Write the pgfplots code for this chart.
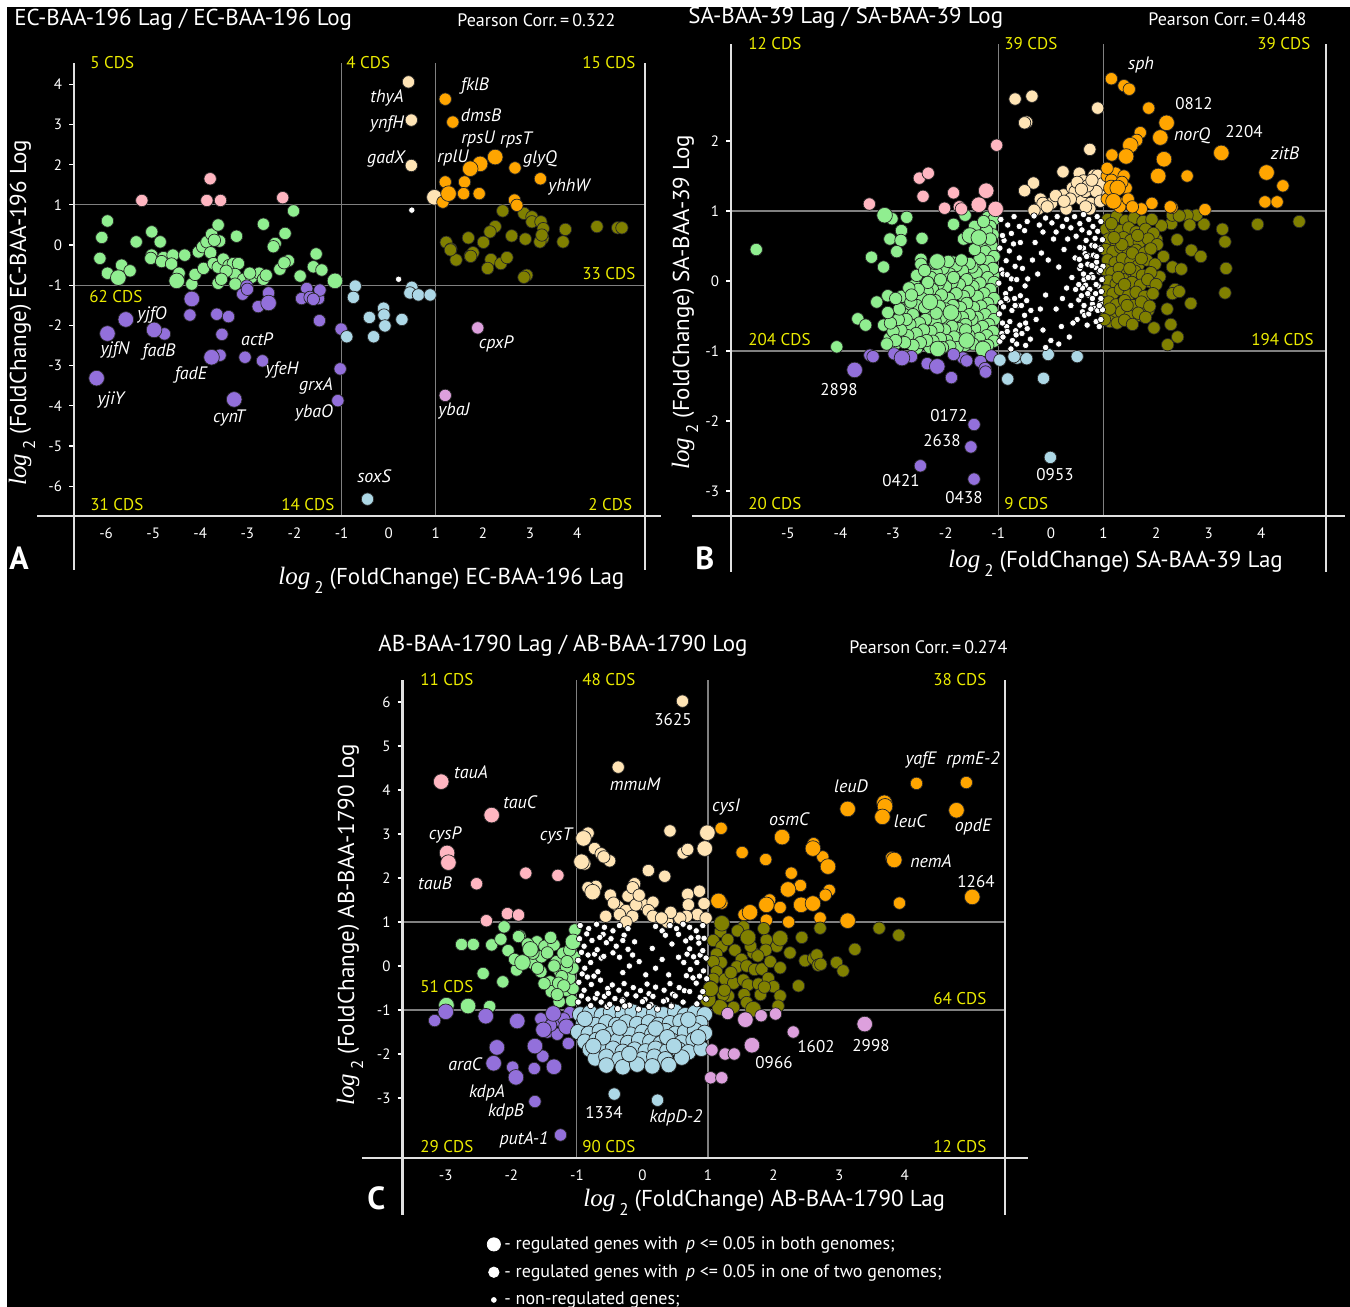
\documentclass[border=0pt]{standalone}
\usepackage{fontspec}
\setmainfont{PT Sans}
\newfontfamily\ser{Liberation Serif}
\usepackage{pgfplots}
\pgfplotsset{compat=1.18}
\definecolor{cgreen}{RGB}{144,238,144}
\definecolor{cpink}{RGB}{255,182,193}
\definecolor{cwheat}{RGB}{255,228,181}
\definecolor{corange}{RGB}{255,165,0}
\definecolor{colive}{RGB}{128,128,0}
\definecolor{cblue}{RGB}{173,216,230}
\definecolor{cpurple}{RGB}{147,112,219}
\definecolor{cplum}{RGB}{221,160,221}
\definecolor{cyel}{RGB}{235,235,0}
\newcommand{\fT}{\fontsize{11.5}{13}\selectfont}
\newcommand{\fP}{\fontsize{9}{10}\selectfont}
\newcommand{\fC}{\fontsize{8.5}{10}\selectfont}
\newcommand{\fG}{\fontsize{9}{10}\selectfont\itshape}
\newcommand{\fN}{\fontsize{8.5}{10}\selectfont}
\newcommand{\fL}{\fontsize{11.5}{13}\selectfont}
\newcommand{\lgt}{{\ser\itshape\fontsize{12.5}{13}\selectfont log}\hspace{2pt}\raisebox{-4.5pt}{\fontsize{8.5}{9}\selectfont 2}\hspace{3pt}}
\tikzset{
 gl/.style={gray, line width=0.6pt},
 al/.style={white!88!black, line width=1.1pt},
}
\pgfplotsset{
 pmed/.style={only marks, mark=*, mark size=3.1pt, mark options={draw=black!85, fill=#1, line width=0.35pt}},
 pbig/.style={only marks, mark=*, mark size=3.9pt, mark options={draw=black!85, fill=#1, line width=0.35pt}},
 pwht/.style={only marks, mark=*, mark size=1.6pt, mark options={draw=black, fill=white, line width=0.3pt}},
 panel/.style={scale only axis, clip=false, axis line style={draw=none},
   xtick pos=left, ytick pos=left, tick align=outside,
   xtick style={draw=none}, ytick style={white, line width=0.6pt},
   major tick length=2.5pt,
   tick label style={white, font=\fontsize{7.5}{8}\selectfont},
   /pgf/number format/assume math mode=true,
   anchor=south west},
}
\begin{document}
\begin{tikzpicture}
\useasboundingbox (0,0) rectangle (675pt,-653.5pt);
\fill[white] (0,0) rectangle (675pt,-653.5pt);
\fill[black] (3.5pt,-3.5pt) rectangle (675pt,-653.5pt);

% ================= PANEL A =================
\begin{axis}[panel, at={(37pt,-258pt)}, width=285.5pt, height=226.5pt,
  xmin=-6.68, xmax=5.44, ymin=-6.74, ymax=4.53, xtick={-6,...,4}, ytick={-6,...,4}]
\draw[gl] (axis cs:-1,-6.74) -- (axis cs:-1,4.53);
\draw[gl] (axis cs:1,-6.74) -- (axis cs:1,4.53);
\draw[gl] (axis cs:-6.68,1) -- (axis cs:5.44,1);
\draw[gl] (axis cs:-6.68,-1) -- (axis cs:5.44,-1);
\draw[al] (axis cs:-7.465,-6.74) -- (axis cs:5.784,-6.74);
\draw[al] (axis cs:-6.68,4.53) -- (axis cs:-6.68,-8.08);
\draw[al] (axis cs:5.44,4.53) -- (axis cs:5.44,-8.08);
\addplot[pmed=cgreen] coordinates {(-5.97,0.60)(-6.09,0.19)(-6.13,-0.33)(-5.97,-0.70)(-5.67,-0.50)(-5.49,-0.64)(-5.36,0.08)(-5.03,0.33)(-4.85,0.08)(-5.03,-0.25)(-5.05,-0.33)(-4.78,-0.31)(-4.82,-0.41)(-4.58,-0.25)(-4.61,-0.47)(-4.33,-0.25)(-4.46,-0.75)(-4.18,-0.97)(-4.11,-0.73)(-3.93,-0.58)(-4.04,-0.17)(-3.95,-0.04)(-3.86,0.08)(-3.76,0.27)(-3.62,0.50)(-3.59,0.10)(-3.78,-0.19)(-3.72,-0.46)(-3.62,-0.55)(-3.51,-0.35)(-3.39,-0.51)(-3.30,-0.46)(-3.19,-0.46)(-3.26,-0.73)(-3.08,-0.85)(-3.26,-0.97)(-3.62,-0.95)(-3.23,0.22)(-2.91,-0.80)(-2.75,-0.70)(-2.66,-0.85)(-2.66,0.52)(-2.41,0.04)(-2.45,-0.04)(-2.20,0.29)(-2.02,0.85)(-2.13,-0.39)(-2.31,-0.60)(-2.22,-0.44)(-1.88,-0.77)(-1.54,-0.22)(-1.60,-0.54)(-1.42,-0.62)(-3.70,0.12)(-3.45,-0.65)(-2.95,-0.70)(-3.55,-0.85)(-2.60,-0.75)(-4.45,-0.70)};
\addplot[pbig=cgreen] coordinates {(-5.74,-0.81)(-4.50,-0.89)(-1.14,-0.89)};
\addplot[pmed=cpink] coordinates {(-5.24,1.11)(-3.79,1.65)(-3.86,1.11)(-3.57,1.11)(-2.25,1.18)};
\addplot[pmed=cwheat] coordinates {(0.42,4.06)(0.48,3.11)(0.48,1.98)};
\addplot[pbig=cwheat] coordinates {(0.97,1.19)};
\addplot[pwht] coordinates {(0.49,0.87)(0.21,-0.85)};
\addplot[pmed=colive] coordinates {(2.42,0.85)(2.87,0.79)(3.04,0.70)(3.04,0.58)(3.23,0.58)(3.28,0.41)(3.27,0.17)(3.21,0.08)(2.90,0.15)(2.61,0.23)(2.26,0.46)(2.15,0.33)(2.01,0.07)(1.69,0.18)(1.22,0.07)(1.32,-0.10)(1.43,-0.37)(1.73,-0.27)(1.79,-0.19)(2.17,-0.36)(2.10,-0.58)(2.38,-0.46)(2.51,-0.31)(2.93,-0.75)(2.87,-0.80)(3.70,0.08)(3.75,0.39)(4.42,0.46)(4.86,0.43)(4.95,0.43)(1.74,-0.28)(3.25,0.25)(1.31,-0.12)};
\addplot[pmed=corange] coordinates {(1.20,3.63)(1.36,3.06)(1.20,1.57)(1.61,1.57)(1.59,1.28)(1.92,1.28)(1.15,1.07)(2.68,1.92)(3.22,1.65)(2.67,1.12)(2.72,0.99)};
\addplot[pbig=corange] coordinates {(2.26,2.19)(1.94,2.02)(1.73,1.90)(1.27,1.28)};
\addplot[pmed=cpurple] coordinates {(-4.22,-1.74)(-3.65,-1.72)(-3.40,-1.78)(-3.54,-2.22)(-3.58,-2.74)(-3.05,-2.79)(-2.68,-2.88)(-3.10,-1.22)(-2.55,-1.19)(-2.77,-1.53)(-1.74,-1.08)(-1.85,-1.33)(-1.67,-1.30)(-1.49,-1.33)(-1.46,-1.12)(-1.47,-1.88)(-1.03,-3.08)(-1.08,-3.87)(-1.01,-2.09)(-4.76,-2.21)(-3.01,-1.02)(-1.60,-1.35)(-3.00,-1.10)};
\addplot[pbig=cpurple] coordinates {(-4.18,-1.34)(-3.76,-2.79)(-3.28,-3.84)(-5.58,-1.85)(-5.97,-2.20)(-6.20,-3.31)(-4.98,-2.11)(-2.55,-1.44)};
\addplot[pmed=cblue] coordinates {(-0.71,-1.02)(-0.75,-1.30)(-0.89,-2.28)(-0.41,-1.80)(-0.11,-1.57)(-0.10,-1.74)(-0.08,-2.01)(-0.32,-2.28)(0.28,-1.85)(0.49,-1.05)(0.45,-1.19)(0.63,-1.24)(0.88,-1.24)(-0.45,-6.32)};
\addplot[pmed=cplum] coordinates {(1.89,-2.06)(1.20,-3.74)};
\end{axis}

% ================= PANEL B =================
\begin{axis}[panel, at={(365.5pt,-258pt)}, width=297.5pt, height=236pt,
  xmin=-6.08, xmax=5.23, ymin=-3.357, ymax=3.386, xtick={-5,...,4}, ytick={-3,...,2}]
\draw[gl] (axis cs:-1,-3.357) -- (axis cs:-1,3.386);
\draw[gl] (axis cs:1,-3.357) -- (axis cs:1,3.386);
\draw[gl] (axis cs:-6.08,1) -- (axis cs:5.23,1);
\draw[gl] (axis cs:-6.08,-1) -- (axis cs:5.23,-1);
\draw[al] (axis cs:-6.825,-3.357) -- (axis cs:5.59,-3.357);
\draw[al] (axis cs:-6.08,3.386) -- (axis cs:-6.08,-4.157);
\draw[al] (axis cs:5.23,3.386) -- (axis cs:5.23,-4.157);
\addplot[pmed=cgreen] coordinates {(-5.60,0.45)(-4.07,-0.94)(-3.67,-0.54)(-3.52,-0.63)(-3.41,0.34)(-3.31,-0.30)(-3.18,0.20)(-3.18,-0.63)(-3.10,-0.21)(-3.02,0.89)(-2.74,0.91)(-2.84,0.72)(-3.06,0.60)(-2.85,0.58)(-2.93,0.42)(-2.45,0.61)(-2.59,-0.06)(-2.47,0.31)(-2.47,0.24)(-2.04,0.25)(-1.86,0.27)(-1.74,0.19)(-1.85,0.81)(-1.63,0.94)(-1.66,0.60)(-1.23,0.85)(-1.20,0.91)(-1.17,0.57)(-1.23,0.41)(-1.39,0.27)(-1.46,0.08)(-1.09,0.08)(-2.84,-0.22)(-2.80,-0.40)(-2.67,-0.33)(-3.07,-0.82)(-2.96,-0.90)(-2.55,-0.96)(-1.70,-0.96)(-1.09,-0.79)
(-1.08,0.88)(-1.15,0.78)(-1.10,0.66)(-1.22,0.72)(-1.30,0.55)(-1.12,0.50)(-1.25,0.42)(-1.08,0.35)(-1.18,0.28)(-1.35,0.32)(-1.45,0.45)(-1.10,0.18)(-1.28,0.15)(-1.42,0.12)(-1.20,0.05)(-1.08,-0.02)(-1.35,-0.03)(-1.48,-0.08)(-1.15,-0.12)(-1.27,-0.18)(-1.40,-0.22)(-1.08,-0.25)(-1.20,-0.32)(-1.33,-0.36)(-1.47,-0.38)(-1.12,-0.42)(-1.25,-0.48)(-1.40,-0.52)(-1.08,-0.55)(-1.18,-0.62)(-1.30,-0.65)(-1.45,-0.68)(-1.10,-0.72)(-1.22,-0.78)(-1.36,-0.82)(-1.08,-0.86)(-1.20,-0.92)(-1.32,-0.94)(-1.48,-0.90)(-1.15,0.60)(-1.38,0.65)(-1.45,0.78)(-1.28,0.85)(-1.50,0.20)(-1.50,-0.55)
(-1.55,0.25)(-1.68,0.15)(-1.80,0.22)(-1.92,0.10)(-2.05,0.18)(-2.18,0.12)(-2.28,0.05)(-1.60,0.02)(-1.74,-0.05)(-1.88,-0.02)(-2.00,-0.08)(-2.14,-0.04)(-2.25,-0.12)(-1.56,-0.15)(-1.66,-0.22)(-1.80,-0.18)(-1.94,-0.25)(-2.08,-0.20)(-2.20,-0.28)(-1.60,-0.32)(-1.72,-0.38)(-1.86,-0.35)(-2.00,-0.40)(-2.12,-0.36)(-2.26,-0.42)(-1.55,-0.48)(-1.68,-0.52)(-1.82,-0.50)(-1.95,-0.56)(-2.08,-0.52)(-2.20,-0.58)(-1.62,-0.62)(-1.75,-0.68)(-1.88,-0.65)(-2.02,-0.70)(-2.15,-0.68)(-2.28,-0.72)(-1.56,-0.78)(-1.70,-0.82)(-1.84,-0.80)(-1.98,-0.85)(-2.10,-0.82)(-2.24,-0.86)(-1.64,-0.92)(-1.78,-0.95)(-1.92,-0.93)(-2.06,-0.95)(-2.30,-0.95)(-1.70,0.30)(-1.95,0.28)(-2.20,0.25)(-1.85,0.05)(-2.10,0.02)(-1.62,-0.70)(-2.18,-0.46)
(-2.35,-0.15)(-2.45,-0.25)(-2.55,-0.35)(-2.40,-0.38)(-2.62,-0.48)(-2.38,-0.55)(-2.50,-0.60)(-2.68,-0.62)(-2.42,-0.70)(-2.56,-0.75)(-2.72,-0.78)(-2.36,-0.85)(-2.48,-0.88)(-2.62,-0.92)(-2.78,-0.88)(-2.34,-0.02)(-2.52,-0.12)(-2.66,-0.30)(-2.75,-0.55)(-2.85,-0.70)(-2.90,-0.55)(-3.00,-0.72)(-2.95,-0.85)(-3.12,-0.90)(-2.88,-0.40)(-3.05,-0.60)(-2.55,0.08)(-2.70,-0.10)(-2.40,0.15)(-2.95,-0.25)(-3.10,-0.45)(-2.65,-0.20)};
\addplot[pbig=cgreen] coordinates {(-3.16,0.94)(-2.16,0.28)(-1.54,0.65)(-1.37,0.62)(-2.15,-0.97)(-1.29,-0.97)(-1.90,-0.45)(-1.60,-0.85)(-2.30,-0.30)};
\addplot[pmed=cpink] coordinates {(-1.03,1.94)(-3.45,1.10)(-2.50,1.47)(-2.33,1.54)(-2.43,1.21)(-1.85,1.26)(-2.02,1.04)(-1.74,1.06)(-1.70,1.03)};
\addplot[pbig=cpink] coordinates {(-1.23,1.29)(-1.37,1.09)(-1.05,1.03)};
\addplot[pmed=cwheat] coordinates {(-0.68,2.60)(-0.36,2.64)(-0.46,2.27)(-0.50,2.26)(0.89,2.47)(0.74,1.88)(-0.33,1.40)(-0.50,1.29)(-0.20,1.17)(-0.24,1.03)(0.23,1.56)(0.54,1.54)(0.62,1.43)(0.82,1.51)(0.89,1.51)(0.24,1.23)(0.41,1.33)(0.58,1.17)(0.76,1.11)(0.94,1.22)(0.98,1.39)(0.29,1.03)(0.74,1.03)(0.01,1.11)(-0.15,1.11)(0.46,1.28)(0.66,1.28)(0.86,1.28)(0.50,1.41)(0.70,1.36)(0.09,1.22)(0.37,1.17)(0.58,1.31)(0.78,1.44)(0.94,1.14)(0.25,1.14)(-0.07,1.06)(-0.32,1.01)(0.66,1.06)};
\addplot[pmed=colive] coordinates {(3.93,0.81)(4.72,0.85)(3.26,0.74)(3.31,0.56)(3.33,0.18)(3.31,-0.17)(2.66,-0.32)(2.67,0.44)(2.85,0.35)(2.91,0.81)(2.77,0.94)(2.59,0.94)(2.64,0.80)(2.40,0.59)(2.31,0.20)(2.48,0.17)(2.36,-0.12)(2.31,-0.18)(2.44,-0.15)(2.21,-0.40)(2.28,-0.62)(2.41,-0.80)(2.22,-0.91)(1.96,-0.67)(1.85,-0.42)(1.67,-0.49)(2.29,0.82)(2.31,0.94)(2.44,0.93)(2.10,0.79)(2.01,0.59)(2.14,0.35)(1.88,-0.01)(2.07,0.06)
(1.08,0.88)(1.25,0.92)(1.42,0.86)(1.58,0.90)(1.75,0.85)(1.92,0.88)(1.05,0.74)(1.18,0.78)(1.32,0.72)(1.48,0.76)(1.62,0.70)(1.80,0.74)(1.95,0.68)(1.10,0.60)(1.24,0.56)(1.38,0.62)(1.52,0.58)(1.68,0.55)(1.85,0.60)(2.02,0.52)(1.04,0.45)(1.18,0.42)(1.33,0.48)(1.47,0.40)(1.62,0.44)(1.78,0.40)(1.90,0.46)(1.08,0.30)(1.22,0.26)(1.36,0.32)(1.52,0.28)(1.66,0.22)(1.82,0.30)(1.98,0.24)(1.04,0.16)(1.16,0.12)(1.30,0.18)(1.45,0.10)(1.60,0.14)(1.74,0.08)(1.90,0.12)(1.10,0.00)(1.24,-0.04)(1.38,0.02)(1.54,-0.02)(1.70,-0.06)(1.84,0.02)(2.00,-0.05)(1.05,-0.14)(1.18,-0.18)(1.32,-0.12)(1.48,-0.20)(1.62,-0.16)(1.78,-0.22)(1.94,-0.18)(1.10,-0.30)(1.24,-0.34)(1.40,-0.28)(1.56,-0.35)(1.72,-0.30)(1.88,-0.36)(1.06,-0.46)(1.20,-0.48)(1.34,-0.44)(1.50,-0.50)(1.66,-0.46)(1.80,-0.52)(1.12,-0.58)(1.26,-0.60)(1.40,-0.56)(1.55,-0.62)(1.15,0.82)(1.35,0.52)(1.55,0.40)(1.28,0.05)(1.45,-0.35)(1.12,-0.40)(1.65,0.65)(1.02,-0.55)(1.20,0.62)(1.50,0.18)(1.72,0.32)(1.40,-0.05)};
\addplot[pmed=corange] coordinates {(1.15,2.89)(1.39,2.79)(1.49,2.74)(1.86,2.47)(1.70,2.12)(1.63,2.01)(1.16,1.80)(2.59,1.50)(4.41,1.36)(4.07,1.13)(4.30,1.13)(2.93,1.02)(2.30,1.05)(1.92,1.11)(1.72,1.03)(1.07,1.50)(1.23,1.54)(1.39,1.50)(1.43,1.33)(1.07,1.17)(1.39,1.11)(1.31,1.06)(1.47,1.17)(1.15,1.44)(1.35,1.41)(1.07,1.61)(1.55,1.06)(2.27,1.06)};
\addplot[pbig=corange] coordinates {(2.20,2.26)(2.08,2.05)(1.51,1.94)(1.43,1.78)(2.15,1.74)(2.04,1.50)(3.24,1.83)(4.10,1.55)(1.15,1.33)(1.27,1.33)(1.19,1.14)};
\addplot[pmed=cpurple] coordinates {(-3.44,-1.06)(-3.38,-1.08)(-2.65,-1.08)(-2.98,-1.04)(-2.35,-1.18)(-1.89,-1.38)(-1.67,-1.10)(-1.60,-1.14)(-1.34,-1.15)(-1.25,-1.25)(-1.24,-1.30)(-1.13,-1.07)(-1.46,-2.05)(-1.52,-2.37)(-2.48,-2.64)(-1.46,-2.83)(-1.85,-1.05)};
\addplot[pbig=cpurple] coordinates {(-3.73,-1.27)(-2.83,-1.10)(-2.16,-1.22)};
\addplot[pmed=cblue] coordinates {(-0.97,-1.13)(-0.64,-1.10)(-0.46,-1.11)(-0.05,-1.05)(0.50,-1.08)(-0.82,-1.40)(-0.14,-1.39)(-0.01,-2.52)(-0.70,-1.08)};
\addplot[pwht] coordinates {(-0.95,0.88)(-0.82,0.80)(-0.70,0.92)(-0.60,0.78)(-0.45,0.85)(-0.32,0.93)(-0.22,0.80)(-0.10,0.90)(0.02,0.83)(0.12,0.92)(0.22,0.78)(0.30,0.88)(0.45,0.92)(0.55,0.82)(0.62,0.95)(0.72,0.88)(0.80,0.78)(0.88,0.92)(0.95,0.85)(-0.50,0.72)(-0.15,0.70)(0.38,0.76)
(0.48,0.64)(0.46,0.33)(0.55,0.18)(0.47,-0.12)(0.53,-0.27)(0.50,-0.55)(0.59,0.73)(0.62,0.47)(0.54,0.31)(0.63,0.02)(0.58,-0.21)(0.60,-0.44)(0.67,0.58)(0.65,0.39)(0.70,0.24)(0.66,-0.06)(0.71,-0.20)(0.64,-0.49)(0.69,-0.63)(0.73,0.69)(0.78,0.51)(0.71,0.36)(0.77,0.09)(0.74,-0.12)(0.79,-0.33)(0.72,-0.47)(0.84,0.61)(0.81,0.37)(0.86,0.19)(0.80,0.05)(0.85,-0.18)(0.82,-0.39)(0.86,-0.58)(0.89,0.71)(0.93,0.47)(0.87,0.27)(0.92,0.13)(0.90,-0.07)(0.94,-0.31)(0.89,-0.42)(0.92,-0.65)(0.98,0.59)(0.95,0.45)(0.99,0.21)(0.97,0.02)(0.96,-0.15)(0.98,-0.41)(0.95,-0.55)
(0.55,0.48)(0.62,0.10)(0.70,-0.18)(0.78,0.22)(0.86,-0.05)(0.94,0.15)(0.60,-0.10)(0.68,0.35)(0.76,-0.40)(0.84,0.50)(0.92,-0.35)(0.53,-0.05)(0.63,-0.35)(0.71,0.05)(0.79,-0.25)(0.87,0.35)(0.95,-0.25)(0.57,0.22)
(-0.97,0.47)(-0.94,0.16)(-0.99,-0.03)(-0.95,-0.31)(-0.98,-0.47)(-0.93,-0.75)(-0.97,-0.86)(-0.89,0.58)(-0.85,0.29)(-0.91,0.10)(-0.86,-0.18)(-0.90,-0.37)(-0.84,-0.65)(-0.91,-0.80)(-0.79,0.43)(-0.83,0.09)(-0.77,-0.11)(-0.82,-0.27)(-0.78,-0.58)(-0.83,-0.72)(-0.76,-0.97)(-0.71,0.53)(-0.68,0.21)(-0.75,0.03)(-0.69,-0.25)(-0.74,-0.42)(-0.67,-0.71)(-0.73,-0.85)(-0.60,0.33)(-0.65,0.02)(-0.58,-0.21)(-0.64,-0.35)(-0.59,-0.63)(-0.66,-0.77)(-0.54,0.18)(-0.49,-0.07)(-0.56,-0.35)(-0.50,-0.49)(-0.55,-0.75)(-0.48,-0.92)(-0.44,0.03)(-0.46,-0.28)(-0.38,-0.42)(-0.45,-0.68)(-0.39,-0.83)
(-0.92,0.65)(-0.75,0.68)(-0.58,0.55)(-0.85,-0.25)(-0.68,-0.35)(-0.92,-0.60)(-0.65,-0.90)(-0.48,-0.60)
(-0.30,0.55)(-0.18,0.40)(-0.25,0.10)(-0.10,-0.20)(0.05,0.60)(0.15,0.20)(0.25,0.45)(0.30,-0.10)(-0.05,0.30)(0.10,-0.40)(-0.28,-0.55)(-0.15,-0.70)(0.00,-0.85)(0.20,-0.65)(0.35,-0.80)(0.40,0.05)(0.38,-0.35)(-0.35,0.30)(0.22,-0.25)(0.10,0.70)(-0.20,-0.40)(0.32,0.60)(0.42,-0.60)(0.15,-0.90)(-0.10,-0.95)};
\end{axis}

% ================= PANEL C =================
\begin{axis}[panel, at={(201.25pt,-579pt)}, width=301.25pt, height=239pt,
  xmin=-3.66, xmax=5.53, ymin=-4.364, ymax=6.5, xtick={-3,...,4}, ytick={-3,...,6},
  legend style={at={(0.140,-0.155)}, anchor=north west, draw=none, fill=none, text=white, font=\fP, row sep=2pt, inner sep=0pt},
  legend cell align=left]
\addlegendimage{only marks, mark=*, mark size=3.3pt, mark options={fill=white, draw=white}}
\addlegendentry{- regulated genes with \,{\itshape p} <= 0.05 in both genomes;}
\addlegendimage{only marks, mark=*, mark size=2.6pt, mark options={fill=white, draw=white}}
\addlegendentry{- regulated genes with \,{\itshape p} <= 0.05 in one of two genomes;}
\addlegendimage{only marks, mark=*, mark size=1.2pt, mark options={fill=white, draw=white}}
\addlegendentry{- non-regulated genes;}
\draw[gl] (axis cs:-1,-4.364) -- (axis cs:-1,6.5);
\draw[gl] (axis cs:1,-4.364) -- (axis cs:1,6.5);
\draw[gl] (axis cs:-3.66,1) -- (axis cs:5.53,1);
\draw[gl] (axis cs:-3.66,-1) -- (axis cs:5.53,-1);
\draw[al] (axis cs:-4.28,-4.364) -- (axis cs:5.88,-4.364);
\draw[al] (axis cs:-3.66,6.5) -- (axis cs:-3.66,-5.66);
\draw[al] (axis cs:5.53,6.5) -- (axis cs:5.53,-5.66);
\addplot[pmed=cgreen] coordinates {(-2.76,0.49)(-2.58,0.49)(-2.30,0.48)(-2.16,0.61)(-2.11,0.89)(-2.43,-0.17)(-2.13,-0.36)(-2.33,-0.92)(-1.92,-0.09)(-1.87,0.68)(-1.67,0.06)(-1.61,0.55)(-1.49,0.45)(-1.55,-0.13)(-1.35,0.48)(-1.31,0.10)(-1.26,-0.13)(-1.41,-0.36)(-1.39,-0.58)(-1.27,-0.81)(-1.08,-0.79)(-1.16,-0.55)(-1.06,-0.51)(-1.11,-0.28)(-1.06,-0.05)(-1.04,0.21)(-1.03,0.82)(-1.21,0.29)(-1.16,-0.02)(-1.23,-0.24)(-1.28,-0.39)(-1.11,0.36)(-1.54,0.21)(-1.67,0.29)(-1.89,0.67)(-1.45,0.30)(-1.35,0.00)(-1.20,-0.45)(-1.50,-0.40)(-1.60,-0.05)(-1.75,0.50)(-1.40,0.65)(-1.15,0.10)(-1.30,-0.65)(-2.05,0.35)(-1.95,0.15)};
\addplot[pbig=cgreen] coordinates {(-2.66,-0.91)(-1.83,0.08)(-1.71,0.38)(-1.06,0.55)(-2.99,-0.89)};
\addplot[pmed=cpink] coordinates {(-2.53,1.87)(-1.78,2.11)(-1.29,2.06)(-2.38,1.03)(-2.06,1.19)(-1.89,1.16)};
\addplot[pbig=cpink] coordinates {(-3.07,4.19)(-2.30,3.43)(-2.98,2.57)(-2.96,2.35)};
\addplot[pmed=cwheat] coordinates {(0.61,6.02)(-0.37,4.52)(0.42,3.07)(0.62,2.57)(0.69,2.65)(0.09,2.17)(0.34,2.04)(-0.83,3.02)(-0.73,2.67)(-0.63,2.55)(-0.50,2.39)(-0.88,2.32)(-0.71,1.81)(-0.49,1.61)(-0.37,1.35)(-0.22,1.59)(-0.12,1.87)(-0.15,1.78)(-0.25,1.26)(-0.15,1.13)(0.02,1.39)(0.16,1.45)(-0.35,1.17)(-0.10,1.39)(0.69,1.63)(0.70,1.39)(0.94,1.42)(0.84,1.17)(0.67,1.13)(0.38,1.00)(0.57,1.09)(0.87,1.70)(0.09,1.26)(-0.56,1.13)(-0.44,1.43)(0.43,1.22)(0.16,1.13)(-0.05,1.61)(-0.83,1.78)(-0.59,2.48)(0.97,1.09)(-0.25,1.00)(0.29,1.09)};
\addplot[pbig=cwheat] coordinates {(0.99,3.03)(0.95,2.67)(-0.90,2.90)(-0.93,2.37)(-0.76,1.68)};
\addplot[pmed=corange] coordinates {(1.20,3.13)(3.80,2.46)(4.18,4.15)(4.94,4.17)(3.92,1.43)(1.52,2.58)(1.88,2.42)(2.61,2.78)(2.75,2.48)(2.27,2.11)(2.41,1.83)(2.85,1.72)(2.79,1.61)(1.94,1.50)(2.10,1.33)(1.55,1.17)(1.89,1.04)(2.23,1.00)(2.71,1.09)(1.21,1.43)};
\addplot[pbig=corange] coordinates {(2.13,2.93)(3.13,3.57)(3.69,3.71)(3.70,3.63)(3.66,3.39)(4.79,3.54)(3.84,2.41)(5.03,1.57)(2.60,2.67)(2.83,2.26)(2.22,1.74)(2.42,1.39)(2.60,1.42)(1.89,1.39)(1.64,1.22)(3.13,1.03)(1.16,1.48)};
\addplot[pmed=colive] coordinates {(1.19,0.78)(1.54,0.89)(1.08,0.58)(1.21,0.44)(1.41,0.36)(1.13,0.27)(1.20,0.08)(1.08,0.10)(1.89,0.59)(2.05,0.45)(1.88,0.36)(1.69,0.30)(1.76,0.23)(1.51,0.15)(1.44,-0.02)(1.59,0.00)(1.71,-0.08)(1.82,-0.07)(1.13,-0.13)(1.08,-0.30)(1.26,-0.30)(1.39,-0.39)(1.54,-0.32)(1.61,-0.43)(1.77,-0.41)(1.92,-0.28)(2.00,-0.47)(2.10,-0.68)(2.07,-0.91)(1.39,-0.94)(1.03,-0.47)(1.31,-0.68)(1.23,-0.66)(2.38,-0.45)(2.43,0.65)(2.71,0.86)(2.48,0.12)(2.61,0.17)(2.66,0.25)(2.68,0.02)(2.96,0.08)(3.06,-0.11)(3.24,0.38)(3.61,0.86)(3.91,0.70)(1.30,0.60)(1.45,0.80)(1.35,-0.15)(1.95,0.10)(2.25,0.30)(1.55,-0.65)(1.80,-0.65)(2.72,0.04)(2.10,-0.04)(1.25,-0.55)(1.65,0.45)(1.85,0.85)(1.59,-0.83)(1.86,-0.48)};
\addplot[pbig=colive] coordinates {(1.21,0.97)(1.61,0.65)(2.10,0.63)(1.69,-0.98)(1.18,-0.94)(1.00,-0.76)(1.04,-0.52)};
\addplot[pmed=cpurple] coordinates {(-3.17,-1.24)(-1.98,-2.30)(-1.52,-2.05)(-1.65,-2.33)(-1.64,-3.08)(-1.25,-3.84)(-1.44,-1.23)(-1.11,-1.06)(-1.13,-1.76)(-1.23,-1.27)(-1.45,-1.50)(-1.30,-1.55)(-1.55,-1.20)(-1.20,-1.20)(-1.40,-1.35)};
\addplot[pbig=cpurple] coordinates {(-3.00,-1.04)(-2.39,-1.14)(-1.91,-1.25)(-2.22,-1.85)(-2.27,-2.21)(-1.93,-2.53)(-1.64,-1.82)(-1.35,-2.29)(-1.51,-1.45)(-1.36,-1.08)(-1.16,-1.38)};
\addplot[pbig=cblue] coordinates {(-0.95,-1.10)(-0.80,-1.06)(-0.62,-1.12)(-0.48,-1.05)(-0.30,-1.10)(-0.15,-1.04)(0.02,-1.12)(0.18,-1.06)(0.32,-1.10)(0.50,-1.04)(0.65,-1.12)(0.80,-1.06)(0.95,-1.10)
(-0.90,-1.30)(-0.72,-1.34)(-0.55,-1.28)(-0.40,-1.34)(-0.25,-1.28)(-0.08,-1.32)(0.10,-1.28)(0.25,-1.34)(0.42,-1.30)(0.58,-1.26)(0.72,-1.34)(0.88,-1.30)
(-0.98,-1.50)(-0.82,-1.54)(-0.65,-1.48)(-0.48,-1.55)(-0.32,-1.50)(-0.18,-1.56)(0.00,-1.50)(0.15,-1.55)(0.35,-1.48)(0.50,-1.54)(0.65,-1.50)(0.80,-1.46)(0.95,-1.52)
(-0.88,-1.72)(-0.70,-1.68)(-0.55,-1.74)(-0.38,-1.70)(-0.22,-1.75)(-0.05,-1.68)(0.12,-1.72)(0.28,-1.76)(0.45,-1.70)(0.60,-1.74)(0.78,-1.68)
(-0.80,-1.90)(-0.62,-1.94)(-0.45,-1.88)(-0.30,-1.95)(-0.12,-1.90)(0.05,-1.94)(0.20,-1.88)(0.38,-1.93)(0.55,-1.90)(0.70,-1.96)(0.90,-1.88)
(-0.72,-2.10)(-0.55,-2.06)(-0.35,-2.12)(-0.18,-2.08)(0.00,-2.12)(0.18,-2.06)(0.35,-2.12)(0.60,-2.08)
(-0.55,-2.26)(-0.30,-2.30)(-0.08,-2.24)(0.15,-2.28)(0.40,-2.25)
(-0.88,-1.20)(-0.35,-1.40)(0.20,-1.42)(0.70,-1.22)(-0.60,-1.62)(0.38,-1.62)(-0.20,-2.00)(0.48,-1.82)(-0.75,-1.82)(0.85,-1.62)};
\addplot[pmed=cblue] coordinates {(-0.43,-2.91)(0.23,-3.05)};
\addplot[pmed=cplum] coordinates {(1.81,-1.13)(2.03,-1.09)(1.06,-1.91)(1.26,-2.00)(1.40,-2.00)(1.04,-2.54)(1.21,-2.54)(2.30,-1.50)(1.30,-1.08)};
\addplot[pbig=cplum] coordinates {(1.57,-1.22)(1.67,-1.80)(3.39,-1.32)};
\addplot[pwht] coordinates {(-0.95,0.92)(-0.82,0.85)(-0.70,0.95)(-0.58,0.88)(-0.45,0.80)(-0.35,0.92)(-0.22,0.85)(0.20,0.90)(0.30,0.80)(0.42,0.92)(0.52,0.85)(0.62,0.95)(0.72,0.88)(0.82,0.80)(0.92,0.92)(-0.60,0.72)(-0.28,0.70)(0.35,0.70)(0.55,0.72)(0.85,0.65)
(-0.96,0.62)(-0.93,0.31)(-0.98,0.13)(-0.92,-0.18)(-0.97,-0.37)(-0.93,-0.68)(-0.98,-0.82)(-0.85,0.73)(-0.89,0.45)(-0.83,0.25)(-0.88,-0.05)(-0.84,-0.25)(-0.89,-0.55)(-0.83,-0.75)(-0.77,0.58)(-0.73,0.27)(-0.79,0.08)(-0.74,-0.23)(-0.78,-0.42)(-0.72,-0.73)(-0.79,-0.90)(-0.65,0.65)(-0.69,0.37)(-0.63,0.18)(-0.68,-0.13)(-0.64,-0.32)(-0.69,-0.63)(-0.63,-0.82)(-0.55,0.53)(-0.59,0.22)(-0.53,-0.51)(-0.58,-0.69)(-0.54,-0.92)
(-0.48,0.62)(-0.40,0.45)(-0.30,0.58)(-0.22,0.38)(-0.12,0.55)(-0.45,0.30)(-0.35,0.20)(-0.15,0.25)
(-0.46,-0.43)(-0.28,-0.40)(-0.14,-0.49)(0.07,-0.41)(0.20,-0.48)(0.42,-0.40)(0.56,-0.49)(-0.52,-0.62)(-0.36,-0.55)(-0.24,-0.64)(-0.03,-0.56)(0.10,-0.63)(0.33,-0.55)(0.46,-0.64)(0.64,-0.56)(-0.42,-0.74)(-0.30,-0.77)(-0.10,-0.68)(0.04,-0.76)(0.16,-0.69)(0.37,-0.77)(0.50,-0.68)(-0.50,-0.87)(-0.31,-0.80)(-0.20,-0.89)(0.00,-0.81)(0.13,-0.88)(0.32,-0.80)(0.44,-0.89)(0.62,-0.82)(-0.38,-0.97)(-0.27,-0.91)(-0.06,-0.98)(0.10,-0.92)(0.23,-0.98)(0.44,-0.91)
(0.66,0.57)(0.68,0.27)(0.63,0.08)(0.67,-0.22)(0.74,0.64)(0.72,0.39)(0.78,0.21)(0.73,-0.08)(0.77,-0.27)(0.72,-0.58)(0.86,0.52)(0.88,0.25)(0.83,0.08)(0.87,-0.23)(0.82,-0.39)(0.88,-0.71)(0.83,-0.86)(0.94,0.63)(0.92,0.35)(0.97,0.18)(0.93,-0.11)(0.98,-0.29)(0.92,-0.58)(0.97,-0.75)
(-0.05,0.10)(0.15,0.40)(0.30,0.15)(0.45,0.50)(0.05,-0.20)(0.40,-0.20)(-0.30,-0.15)(0.20,-0.05)(0.55,0.20)(-0.20,0.00)};
\end{axis}

% ================= TEXT =================
\begin{scope}[x=0.5pt,y=-0.5pt, every node/.style={inner sep=0pt, text=white}]
% Panel A
\node[anchor=west,font=\fT] at (14,20) {EC-BAA-196 Lag / EC-BAA-196 Log};
\node[anchor=west,font=\fP] at (457,20) {Pearson Corr.\,=\,0.322};
\node[anchor=west,font=\fC,text=cyel] at (90,63) {5 CDS};
\node[anchor=west,font=\fC,text=cyel] at (346,63) {4 CDS};
\node[anchor=west,font=\fC,text=cyel] at (582,63) {15 CDS};
\node[anchor=west,font=\fC,text=cyel] at (89,297) {62 CDS};
\node[anchor=west,font=\fC,text=cyel] at (582,274) {33 CDS};
\node[anchor=west,font=\fC,text=cyel] at (90,505) {31 CDS};
\node[anchor=west,font=\fC,text=cyel] at (281,505) {14 CDS};
\node[anchor=west,font=\fC,text=cyel] at (588,505) {2 CDS};
\node[font=\fG] at (387,98) {thyA};
\node[font=\fG] at (387,124) {ynfH};
\node[font=\fG] at (386,159) {gadX};
\node[font=\fG] at (475,86) {fklB};
\node[font=\fG] at (481,115) {dmsB};
\node[font=\fG] at (478,139) {rpsU};
\node[font=\fG] at (516,140) {rpsT};
\node[font=\fG] at (453,158) {rplU};
\node[font=\fG] at (540,159) {glyQ};
\node[font=\fG] at (569,187) {yhhW};
\node[font=\fG] at (152,315) {yjfO};
\node[font=\fG] at (115,350) {yjfN};
\node[font=\fG] at (159,352) {fadB};
\node[font=\fG] at (191,375) {fadE};
\node[font=\fG] at (257,339) {actP};
\node[font=\fG] at (282,370) {yfeH};
\node[font=\fG] at (316,386) {grxA};
\node[font=\fG] at (314,413) {ybaO};
\node[font=\fG] at (229,418) {cynT};
\node[font=\fG] at (111,400) {yjiY};
\node[font=\fG] at (374,476) {soxS};
\node[font=\fG] at (496,344) {cpxP};
\node[font=\fG] at (454,411) {ybaJ};
\node[anchor=west,font=\fL] at (278,580) {\lgt(FoldChange) EC-BAA-196 Lag};
\node[anchor=west,rotate=90,font=\fL] at (22,486) {\lgt(FoldChange) EC-BAA-196 Log};
\node[anchor=west,font=\fontsize{16}{18}\selectfont\bfseries] at (9,558) {A};
% Panel B
\node[anchor=west,font=\fT] at (688,18) {SA-BAA-39 Lag / SA-BAA-39 Log};
\node[anchor=west,font=\fP] at (1148,19) {Pearson Corr.\,=\,0.448};
\node[anchor=west,font=\fC,text=cyel] at (748,44) {12 CDS};
\node[anchor=west,font=\fC,text=cyel] at (1004,44) {39 CDS};
\node[anchor=west,font=\fC,text=cyel] at (1257,44) {39 CDS};
\node[anchor=west,font=\fC,text=cyel] at (748,340) {204 CDS};
\node[anchor=west,font=\fC,text=cyel] at (1251,340) {194 CDS};
\node[anchor=west,font=\fC,text=cyel] at (748,504) {20 CDS};
\node[anchor=west,font=\fC,text=cyel] at (1004,504) {9 CDS};
\node[font=\fG] at (1141,65) {sph};
\node[font=\fN] at (1194,104) {0812};
\node[font=\fG] at (1192,136) {norQ};
\node[font=\fN] at (1244,132) {2204};
\node[font=\fG] at (1285,153) {zitB};
\node[font=\fN] at (839,390) {2898};
\node[font=\fN] at (949,416) {0172};
\node[font=\fN] at (942,441) {2638};
\node[font=\fN] at (901,481) {0421};
\node[font=\fN] at (964,498) {0438};
\node[font=\fN] at (1055,475) {0953};
\node[anchor=west,font=\fL] at (948,563) {\lgt(FoldChange) SA-BAA-39 Lag};
\node[anchor=west,rotate=90,font=\fL] at (685,470) {\lgt(FoldChange) SA-BAA-39 Log};
\node[anchor=west,font=\fontsize{16}{18}\selectfont\bfseries] at (695,558) {B};
% Panel C
\node[anchor=west,font=\fT] at (378,646) {AB-BAA-1790 Lag / AB-BAA-1790 Log};
\node[anchor=west,font=\fP] at (849,647) {Pearson Corr.\,=\,0.274};
\node[anchor=west,font=\fC,text=cyel] at (420,680) {11 CDS};
\node[anchor=west,font=\fC,text=cyel] at (582,680) {48 CDS};
\node[anchor=west,font=\fC,text=cyel] at (933,680) {38 CDS};
\node[anchor=west,font=\fC,text=cyel] at (420,987) {51 CDS};
\node[anchor=west,font=\fC,text=cyel] at (933,999) {64 CDS};
\node[anchor=west,font=\fC,text=cyel] at (420,1147) {29 CDS};
\node[anchor=west,font=\fC,text=cyel] at (582,1147) {90 CDS};
\node[anchor=west,font=\fC,text=cyel] at (933,1147) {12 CDS};
\node[font=\fG] at (471,772) {tauA};
\node[font=\fG] at (520,802) {tauC};
\node[font=\fG] at (445,835) {cysP};
\node[font=\fG] at (435,883) {tauB};
\node[font=\fG] at (556,836) {cysT};
\node[font=\fG] at (635,784) {mmuM};
\node[font=\fN] at (673,720) {3625};
\node[font=\fG] at (726,807) {cysI};
\node[font=\fG] at (789,819) {osmC};
\node[font=\fG] at (851,786) {leuD};
\node[font=\fG] at (921,760) {yafE};
\node[font=\fG] at (973,760) {rpmE-2};
\node[font=\fG] at (910,821) {leuC};
\node[font=\fG] at (973,827) {opdE};
\node[font=\fG] at (931,861) {nemA};
\node[font=\fN] at (976,882) {1264};
\node[font=\fN] at (774,1063) {0966};
\node[font=\fN] at (816,1047) {1602};
\node[font=\fN] at (871,1046) {2998};
\node[font=\fG] at (465,1064) {araC};
\node[font=\fG] at (487,1093) {kdpA};
\node[font=\fG] at (506,1112) {kdpB};
\node[font=\fG] at (524,1140) {putA-1};
\node[font=\fN] at (604,1113) {1334};
\node[font=\fG] at (676,1118) {kdpD-2};
\node[anchor=west,font=\fL] at (583,1202) {\lgt(FoldChange) AB-BAA-1790 Lag};
\node[anchor=west,rotate=90,font=\fL] at (350,1106) {\lgt(FoldChange) AB-BAA-1790 Log};
\node[anchor=west,font=\fontsize{16}{18}\selectfont\bfseries] at (367,1198) {C};
\end{scope}
\end{tikzpicture}
\end{document}
